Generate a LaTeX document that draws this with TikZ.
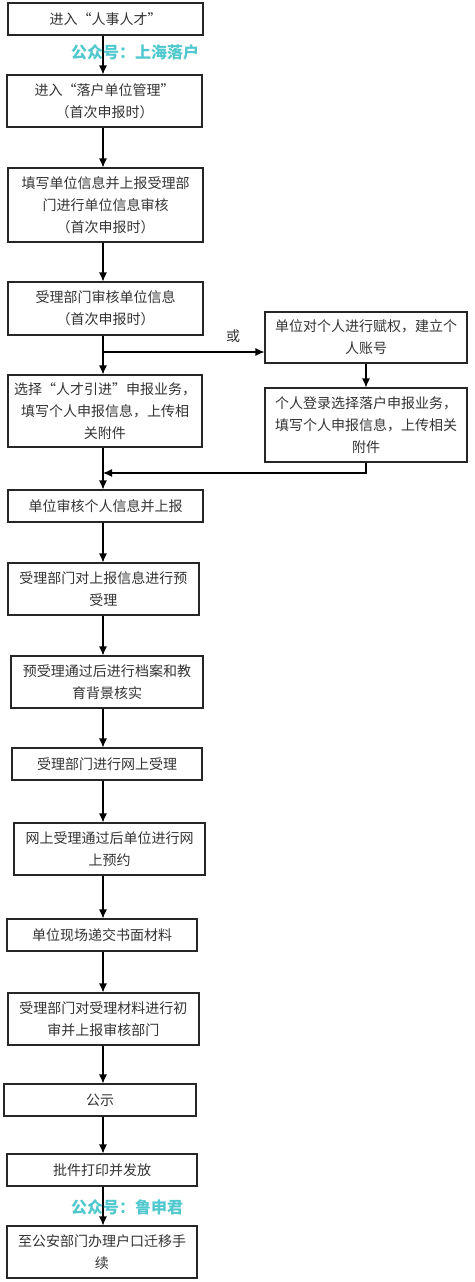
\documentclass[tikz,border=0pt]{standalone}
\usepackage{fontspec}
\setmainfont{Noto Sans CJK SC}
\usetikzlibrary{arrows.meta}

\begin{document}
\begin{tikzpicture}[x=1pt,y=-1pt,
		box/.style={draw=black!85, line width=1.1pt, inner sep=0pt, align=center, text=black!80, font=\fontsize{14pt}{22pt}\selectfont},
		arr/.style={line width=1.1pt, -{Latex[length=9pt,width=8pt]}},
		wmark/.style={text={rgb,255:red,80;green,200;blue,205}, font=\fontsize{16pt}{16pt}\selectfont\bfseries}]
		\useasboundingbox (0,0) rectangle (474,1282);
		%%%%%%%%%%%%%
		\node[box, minimum width=195, minimum height=32] (a) at (105.5, 19) {进入“人事人才”};
		\node[box, minimum width=195, minimum height=52] (b) at (104.5, 101) {进入“落户单位管理”\\（首次申报时）};
		\node[box, minimum width=195, minimum height=74] (c) at (105.5, 205) {填写单位信息并上报受理部\\门进行单位信息审核\\（首次申报时）};
		\node[box, minimum width=195, minimum height=53] (d) at (105.5, 308.5) {受理部门审核单位信息\\（首次申报时）};
		\node[box, minimum width=194, minimum height=72] (e) at (105, 411) {选择“人才引进”申报业务，\\填写个人申报信息，上传相\\关附件};
		\node[box, minimum width=195, minimum height=32] (f) at (105.5, 506) {单位审核个人信息并上报};
		\node[box, minimum width=191, minimum height=52] (g) at (103.5, 589) {受理部门对上报信息进行预\\受理};
		\node[box, minimum width=192, minimum height=52] (h) at (107, 682) {预受理通过后进行档案和教\\育背景核实};
		\node[box, minimum width=190, minimum height=32] (i) at (107, 764) {受理部门进行网上受理};
		\node[box, minimum width=191, minimum height=52] (j) at (109.5, 849) {网上受理通过后单位进行网\\上预约};
		\node[box, minimum width=190, minimum height=32] (k) at (102, 935) {单位现场递交书面材料};
		\node[box, minimum width=191, minimum height=52] (l) at (103.5, 1019) {受理部门对受理材料进行初\\审并上报审核部门};
		\node[box, minimum width=192, minimum height=32] (m) at (100, 1100) {公示};
		\node[box, minimum width=190, minimum height=32] (n) at (102, 1170) {批件打印并发放};
		\node[box, minimum width=190, minimum height=52] (o) at (102, 1252) {至公安部门办理户口迁移手\\续};
		%%%%%%%%%%%%%
		\node[box, minimum width=202, minimum height=51] (r1) at (366, 337.5) {单位对个人进行赋权，建立个\\人账号};
		\node[box, minimum width=202, minimum height=74] (r2) at (366, 425) {个人登录选择落户申报业务，\\填写个人申报信息，上传相关\\附件};
		\node[font=\fontsize{14pt}{14pt}\selectfont, text=black!80] (or) at (233, 336) {或};
		%%%%%%%%%%%%%
		\coordinate (spine) at (103, 0);
		\coordinate (fork) at (103, 352);
		\coordinate (join) at (103, 473);
		\draw [arr] (a.south -| spine) to (b.north -| spine);
		\draw [arr] (b.south -| spine) to (c.north -| spine);
		\draw [arr] (c.south -| spine) to (d.north -| spine);
		\draw [arr] (d.south -| spine) to (e.north -| spine);
		\draw [arr] (e.south -| spine) to (f.north -| spine);
		\draw [arr] (f.south -| spine) to (g.north -| spine);
		\draw [arr] (g.south -| spine) to (h.north -| spine);
		\draw [arr] (h.south -| spine) to (i.north -| spine);
		\draw [arr] (i.south -| spine) to (j.north -| spine);
		\draw [arr] (j.south -| spine) to (k.north -| spine);
		\draw [arr] (k.south -| spine) to (l.north -| spine);
		\draw [arr] (l.south -| spine) to (m.north -| spine);
		\draw [arr] (m.south -| spine) to (n.north -| spine);
		\draw [arr] (n.south -| spine) to (o.north -| spine);
		\draw [arr] (fork) to (fork -| r1.west);
		\draw [arr] (r1.south) to (r2.north);
		\draw [arr] (r2.south) |- (join);
		%%%%%%%%%%%%%
		\node[wmark] (wm1) at (135, 52) {公众号：上海落户};
		\node[wmark] (wm2) at (127, 1207) {公众号：鲁申君};
	\end{tikzpicture}
\end{document}
